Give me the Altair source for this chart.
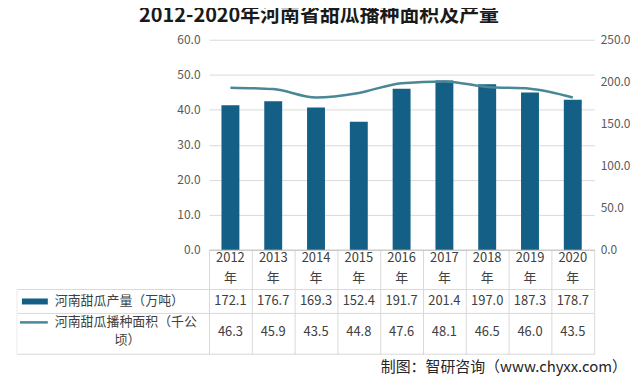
import altair as alt
import pandas as pd

years = ["2012", "2013", "2014", "2015", "2016", "2017", "2018", "2019", "2020"]
production = [172.1, 176.7, 169.3, 152.4, 191.7, 201.4, 197.0, 187.3, 178.7]  # 万吨
area = [46.3, 45.9, 43.5, 44.8, 47.6, 48.1, 46.5, 46.0, 43.5]  # 千公顷

title_text = "2012-2020年河南省甜瓜播种面积及产量"
series_prod = "河南甜瓜产量（万吨）"
series_area_1 = "河南甜瓜播种面积（千公"
series_area_2 = "顷）"
source_text = "制图：智研咨询（www.chyxx.com）"

df = pd.DataFrame({"year": years, "prod": production, "area": area, "nian": ["年"] * len(years)})

FONT = "Noto Sans CJK SC"
GRAY = "#595959"
LINE_GRAY = "#d9d9d9"
BAR_C = "#135f85"
LINE_C = "#4a8797"

W, H = 387, 211

x_enc = alt.X(
    "year:N",
    sort=years,
    scale=alt.Scale(type="band", paddingInner=0, paddingOuter=0),
    axis=alt.Axis(
        labels=False,
        title=None,
        tickBand="extent",
        tickSize=105,
        tickColor=LINE_GRAY,
        domainColor="#bfbfbf",
        domainWidth=1,
    ),
)

base = alt.Chart(df)

bars = base.mark_bar(size=18, color=BAR_C).encode(
    x=x_enc,
    y=alt.Y(
        "prod:Q",
        scale=alt.Scale(domain=[0, 250]),
        axis=alt.Axis(
            orient="right",
            values=[0, 50, 100, 150, 200, 250],
            format=".1f",
            grid=False,
            ticks=False,
            domain=False,
            labelPadding=6,
            labelColor=GRAY,
            labelFontSize=12,
            labelFont=FONT,
            title=None,
        ),
    ),
)

line = base.mark_line(interpolate="monotone", strokeWidth=2.5, color=LINE_C).encode(
    x=x_enc,
    y=alt.Y(
        "area:Q",
        scale=alt.Scale(domain=[0, 60]),
        axis=alt.Axis(
            orient="left",
            values=[0, 10, 20, 30, 40, 50, 60],
            format=".1f",
            grid=True,
            gridColor=LINE_GRAY,
            ticks=False,
            domain=False,
            labelPadding=9,
            labelColor=GRAY,
            labelFontSize=12,
            labelFont=FONT,
            title=None,
        ),
    ),
)

txt = dict(font=FONT, fontSize=13, color="#404040", baseline="middle")

year_lbl = base.mark_text(**txt).encode(x=x_enc, y=alt.value(219), text="year:N")
nian_lbl = base.mark_text(**txt).encode(x=x_enc, y=alt.value(239), text="nian:N")
prod_lbl = base.mark_text(**txt).encode(x=x_enc, y=alt.value(263), text=alt.Text("prod:Q", format=".1f"))
area_lbl = base.mark_text(**txt).encode(x=x_enc, y=alt.value(294), text=alt.Text("area:Q", format=".1f"))

# table horizontal lines
hrules = alt.layer(
    *[
        alt.Chart(pd.DataFrame({"a": [0]})).mark_rule(color=LINE_GRAY, strokeWidth=1).encode(
            x=alt.value(-193), x2=alt.value(W), y=alt.value(yy)
        )
        for yy in (251, 275, 316)
    ]
)
left_border = alt.Chart(pd.DataFrame({"a": [0]})).mark_rule(color="#ececec", strokeWidth=1).encode(
    x=alt.value(-193), y=alt.value(251), y2=alt.value(316)
)

# legend keys
key_bar = alt.Chart(pd.DataFrame({"a": [0]})).mark_rect(color=BAR_C).encode(
    x=alt.value(-188), x2=alt.value(-162), y=alt.value(260), y2=alt.value(266)
)
key_line = alt.Chart(pd.DataFrame({"a": [0]})).mark_rule(color=LINE_C, strokeWidth=2.5).encode(
    x=alt.value(-190), x2=alt.value(-162), y=alt.value(284)
)

lbl_df = pd.DataFrame({"t": [series_prod]})
row1 = alt.Chart(lbl_df).mark_text(align="left", **txt).encode(
    x=alt.value(-155), y=alt.value(263), text="t:N"
)
row2a = alt.Chart(pd.DataFrame({"t": [series_area_1]})).mark_text(align="left", **txt).encode(
    x=alt.value(-155), y=alt.value(284), text="t:N"
)
row2b = alt.Chart(pd.DataFrame({"t": [series_area_2]})).mark_text(align="center", **txt).encode(
    x=alt.value(-82), y=alt.value(302), text="t:N"
)

source = alt.Chart(pd.DataFrame({"t": [source_text]})).mark_text(
    font=FONT, fontSize=15, color="#262626", baseline="middle", align="right"
).encode(x=alt.value(420), y=alt.value(329), text="t:N")

chart = (
    alt.layer(
        hrules, left_border, bars, line,
        year_lbl, nian_lbl, prod_lbl, area_lbl,
        key_bar, key_line, row1, row2a, row2b, source,
    )
    .resolve_scale(y="independent")
    .properties(
        width=W,
        height=H,
        title=alt.TitleParams(
            title_text,
            anchor="middle",
            dx=-83,
            offset=8,
            font=FONT,
            fontSize=20,
            fontWeight="bold",
            color="#1a1a1a",
        ),
        autosize=alt.AutoSizeParams(type="none"),
        padding={"left": 202, "top": 31, "right": 38, "bottom": 130},
        background="white",
    )
    .configure_view(stroke=None)
)

chart.save("out.html", embed_options={"renderer": "svg", "actions": False})
